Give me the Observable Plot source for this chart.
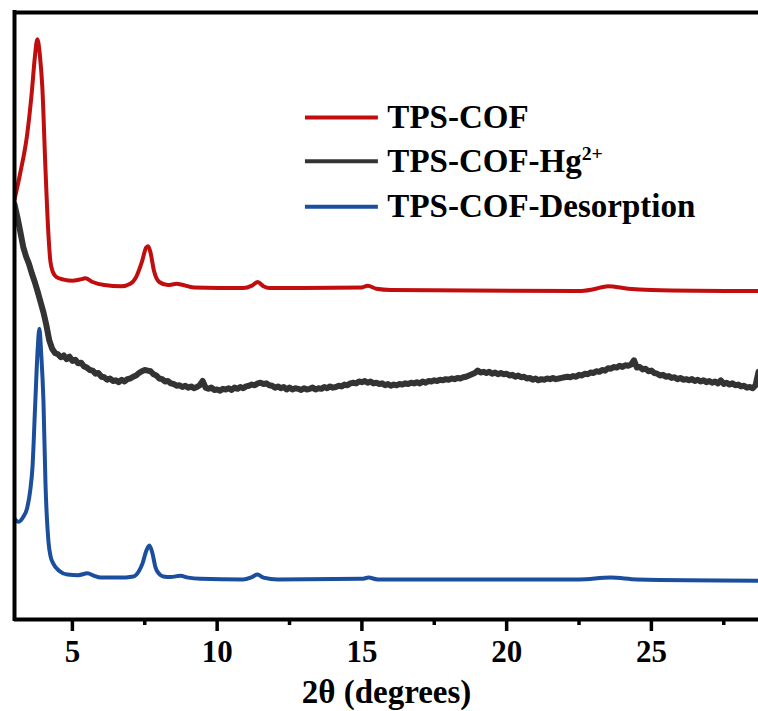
<!DOCTYPE html>
<html>
<head>
<meta charset="utf-8">
<script src="https://cdn.jsdelivr.net/npm/d3@7"></script>
<script src="https://cdn.jsdelivr.net/npm/@observablehq/plot@0.6"></script>
<style>
  body { margin: 0; background: #fff; }
  #chart svg { display: block; }
</style>
</head>
<body>
<div id="chart"></div>
<script>
// PXRD patterns, stacked with vertical offsets (intensity in a.u.)
const seriesNames = ["TPS-COF", "TPS-COF-Hg2+", "TPS-COF-Desorption"];
const seriesColors = ["#c00d0d", "#333333", "#1b4f9e"];

// TPS-COF (as synthesised)
const cofAngle = [3.00, 3.20, 3.44, 3.60, 3.70, 3.79, 3.88, 3.96, 4.07, 4.17, 4.24, 4.33, 4.45, 4.70, 5.00, 5.25, 5.45, 5.70, 6.10, 6.70,
  7.00, 7.20, 7.40, 7.55, 7.62, 7.70, 7.82, 8.00, 8.30, 8.60, 8.75, 9.20, 10.9, 11.2, 11.4, 11.6, 11.8, 12.5, 15.0, 15.2,
  15.5, 16.0, 22.5, 23.0, 23.5, 24.2, 25.0, 28.7];
const cofIntensity = [69.2, 73.6, 80.0, 87.0, 92.5, 95.6, 92.8, 87.8, 74.2, 63.6, 59.0, 57.2, 56.4, 56.0, 55.8, 56.0, 56.2, 55.6, 55.1, 54.9,
  55.3, 56.4, 58.9, 61.3, 61.5, 60.4, 57.4, 55.6, 55.1, 55.3, 55.2, 54.7, 54.6, 55.0, 55.6, 54.9, 54.6, 54.6, 54.7, 55.0,
  54.5, 54.3, 54.1, 54.4, 54.9, 54.5, 54.3, 54.1];

// TPS-COF after Hg2+ uptake: scan from 3.0° in 0.1° steps
const hgStartAngle = 3.0;
const hgStepAngle = 0.1;
const hgIntensity = [
  68.4, 66.3, 63.9, 61.4, 59.8, 58.6, 57.0, 55.6, 54.0, 52.3,
  50.6, 48.5, 46.0, 44.6, 43.9, 43.7, 43.2, 43.5, 42.9, 43.3,
  42.6, 42.8, 42.2, 42.3, 41.7, 41.5, 41.1, 41.0, 40.5, 40.6,
  40.0, 39.9, 39.5, 39.7, 39.3, 39.4, 39.1, 39.5, 39.2, 39.6,
  39.7, 40.0, 40.2, 40.6, 40.9, 41.1, 41.0, 40.9, 40.4, 40.2,
  39.7, 39.6, 39.2, 39.3, 38.9, 38.8, 38.5, 38.6, 38.3, 38.5,
  38.2, 38.4, 38.1, 38.3, 38.6, 39.3, 38.2, 38.0, 38.2, 37.8,
  37.9, 37.7, 38.0, 37.9, 38.1, 37.8, 38.2, 38.0, 38.3, 38.1,
  38.4, 38.5, 38.7, 38.6, 38.9, 39.0, 38.8, 38.9, 38.6, 38.5,
  38.2, 38.4, 38.1, 38.3, 37.9, 38.2, 37.9, 38.1, 38.0, 37.8,
  38.1, 37.9, 38.0, 38.2, 37.9, 38.1, 38.0, 38.3, 38.1, 38.4,
  38.2, 38.3, 38.5, 38.4, 38.7, 38.6, 38.9, 39.0, 38.9, 39.2,
  39.1, 39.3, 39.0, 39.2, 38.9, 39.0, 38.8, 38.9, 38.6, 38.8,
  38.5, 38.7, 38.6, 38.8, 38.7, 38.9, 38.8, 39.0, 38.9, 39.1,
  38.9, 39.2, 39.0, 39.3, 39.2, 39.4, 39.3, 39.5, 39.4, 39.6,
  39.5, 39.7, 39.6, 39.8, 39.7, 39.9, 40.0, 40.2, 40.4, 40.6,
  41.0, 40.7, 40.8, 40.6, 40.8, 40.5, 40.7, 40.4, 40.6, 40.4,
  40.5, 40.2, 40.3, 40.0, 40.2, 39.9, 40.0, 39.7, 39.8, 39.5,
  39.7, 39.4, 39.6, 39.5, 39.7, 39.6, 39.8, 39.6, 39.7, 39.8,
  39.9, 40.0, 39.9, 40.1, 40.0, 40.3, 40.2, 40.5, 40.4, 40.7,
  40.6, 40.9, 40.8, 41.1, 41.0, 41.4, 41.3, 41.6, 41.5, 41.8,
  41.6, 41.9, 41.8, 42.0, 42.7, 41.5, 41.6, 41.2, 41.3, 40.9,
  41.0, 40.6, 40.5, 40.2, 40.3, 40.0, 40.1, 39.8, 39.9, 39.6,
  39.8, 39.5, 39.6, 39.4, 39.6, 39.3, 39.5, 39.2, 39.4, 39.1,
  39.3, 39.0, 39.2, 38.9, 39.4, 38.8, 39.0, 38.7, 38.9, 38.6,
  38.7, 38.4, 38.5, 38.2, 38.3, 38.1, 38.6, 40.8
];

// TPS-COF after desorption of Hg2+
const desAngle = [3.00, 3.13, 3.30, 3.44, 3.55, 3.62, 3.72, 3.80, 3.86, 3.92, 4.00, 4.07, 4.17, 4.25, 4.34, 4.55, 4.83, 5.20, 5.52, 5.75,
  5.97, 6.60, 7.11, 7.30, 7.42, 7.55, 7.66, 7.76, 7.87, 8.00, 8.14, 8.40, 8.73, 9.00, 9.42, 10.9, 11.2, 11.39, 11.6, 12.1,
  15.0, 15.23, 15.54, 22.5, 23.59, 24.5, 28.7];
const desIntensity = [16.6, 16.1, 16.9, 18.4, 21.5, 25.0, 36.0, 44.5, 47.9, 44.0, 36.0, 22.4, 13.0, 10.3, 9.2, 8.0, 7.4, 7.3, 7.6, 7.2,
  6.9, 6.9, 7.1, 8.0, 9.2, 11.3, 12.2, 11.0, 8.6, 7.5, 7.1, 7.0, 7.2, 6.9, 6.7, 6.6, 7.0, 7.4, 6.9, 6.6,
  6.7, 6.9, 6.6, 6.6, 6.9, 6.6, 6.4];

const majorTicks = [5, 10, 15, 20, 25];
const minorTicks = [7.5, 12.5, 17.5, 22.5, 27.5];
const xLabel = "2θ (degrees)";

const cof = cofAngle.map((a, i) => ({angle: a, intensity: cofIntensity[i]}));
const hg = hgIntensity.map((v, i) => ({angle: +(hgStartAngle + i * hgStepAngle).toFixed(2), intensity: v}));
const des = desAngle.map((a, i) => ({angle: a, intensity: desIntensity[i]}));

// legend rows, placed inside the frame (x in degrees, y in a.u.)
const legend = seriesNames.map((name, i) => ({name, color: seriesColors[i], y: [82.7, 75.5, 68.0][i]}));

const serif = "'Liberation Serif', 'Times New Roman', Times, serif";

const chart = Plot.plot({
  width: 758,
  height: 711,
  marginLeft: 14,
  marginRight: 0,
  marginTop: 12,
  marginBottom: 92,
  style: {fontFamily: serif, fontWeight: "bold", color: "#000", background: "#fff"},
  x: {domain: [3.0, 28.7], label: null},
  y: {domain: [0, 100], axis: null},
  marks: [
    Plot.line(cof, {x: "angle", y: "intensity", stroke: seriesColors[0], strokeWidth: 4, curve: "monotone-x", clip: true}),
    Plot.line(hg, {x: "angle", y: "intensity", stroke: seriesColors[1], strokeWidth: 6, curve: "linear", clip: true}),
    Plot.line(des, {x: "angle", y: "intensity", stroke: seriesColors[2], strokeWidth: 4, curve: "monotone-x", clip: true}),
    // frame: left, top and bottom edges
    Plot.ruleY([0, 100], {stroke: "#000", strokeWidth: 4}),
    Plot.ruleX([3.0], {y1: 0, y2: 100, stroke: "#000", strokeWidth: 4, strokeLinecap: "square"}),
    Plot.axisX(majorTicks, {tickSize: 12, tickPadding: 8, fontSize: 31, strokeWidth: 3.5, label: null, tickFormat: d => String(d)}),
    Plot.axisX(minorTicks, {tickSize: 6, strokeWidth: 3.5, label: null, tickFormat: () => ""}),
    Plot.text([xLabel], {text: d => d, frameAnchor: "bottom", dy: 73, fontSize: 33, fontWeight: "bold", lineAnchor: "middle"}),
    // legend
    Plot.ruleY(legend, {y: "y", x1: 13.05, x2: 15.57, stroke: "color", strokeWidth: 4}),
    Plot.text(legend, {x: 15.88, y: "y", text: "name", textAnchor: "start", lineAnchor: "middle", fontSize: 33, fontWeight: "bold", fill: "#000"})
  ]
});

// typeset the ion charge as a superscript
d3.select(chart).selectAll("text").filter(function() { return this.textContent === "TPS-COF-Hg2+"; })
  .each(function() {
    const t = d3.select(this);
    t.text("TPS-COF-Hg");
    t.append("tspan").attr("font-size", "60%").attr("dy", "-0.62em").text("2+");
  });

document.getElementById("chart").append(chart);
</script>
</body>
</html>
